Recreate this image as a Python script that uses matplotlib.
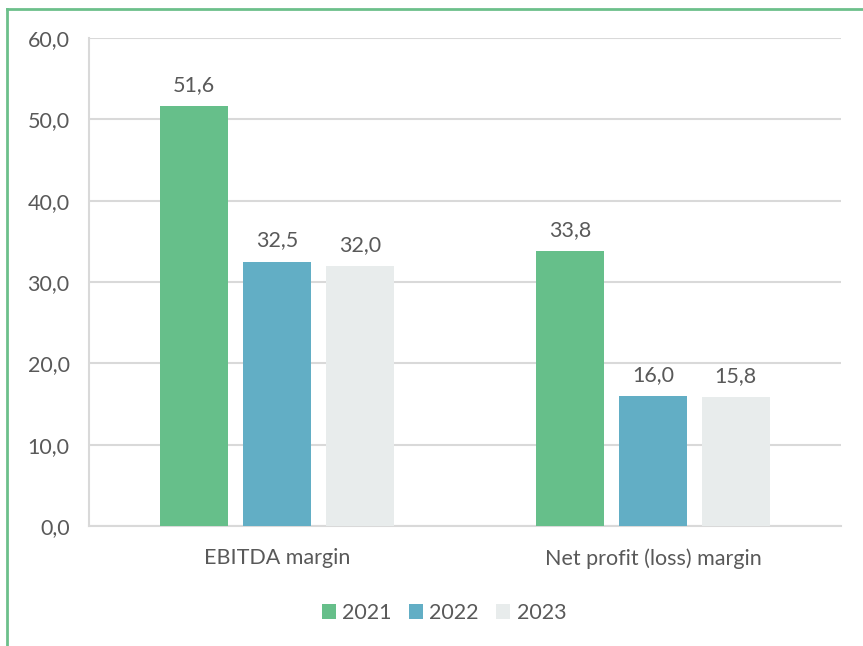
import matplotlib
matplotlib.use("Agg")
import matplotlib.pyplot as plt
from matplotlib.lines import Line2D
import numpy as np

categories = ["EBITDA margin", "Net profit (loss) margin"]
years = ["2021", "2022", "2023"]
values_2021 = [51.6, 33.8]
values_2022 = [32.5, 16.0]
values_2023 = [32.0, 15.8]
y_ticks = [0, 10, 20, 30, 40, 50, 60]

series = [values_2021, values_2022, values_2023]
colors = ["#66bf8a", "#62aec5", "#e8ecec"]
text_color = "#595959"
grid_color = "#d9d9d9"
border_color = "#6cc08b"

plt.rcParams["font.family"] = ["Lato", "DejaVu Sans"]
fs = 15.5

fig = plt.figure(figsize=(8.63, 6.46), dpi=100)
ax = fig.add_axes([89 / 863, 1 - 526 / 646, (841 - 89) / 863, (526 - 38) / 646])

x = np.arange(len(categories))
width = 0.18
offsets = [-0.22, 0.0, 0.22]

def fmt(v):
    return f"{v:.1f}".replace(".", ",")

for vals, off, col, yr in zip(series, offsets, colors, years):
    bars = ax.bar(x + off, vals, width=width, color=col, label=yr, zorder=3)
    for b, v in zip(bars, vals):
        ax.annotate(fmt(v), (b.get_x() + b.get_width() / 2, v),
                    xytext=(0, 8), textcoords="offset points",
                    ha="center", va="bottom", fontsize=fs, color=text_color)

ax.set_xlim(-0.5, 1.5)
ax.set_ylim(0, 60)
ax.set_yticks(y_ticks)
ax.set_yticklabels([fmt(t) for t in y_ticks])
ax.set_xticks(x)
ax.set_xticklabels(categories)
ax.tick_params(axis="both", length=0, colors=text_color, labelsize=fs)
ax.tick_params(axis="y", pad=14)
ax.tick_params(axis="x", pad=16)

ax.yaxis.grid(True, color=grid_color, linewidth=1.5, zorder=0)
ax.set_axisbelow(True)
for side in ["top", "right"]:
    ax.spines[side].set_visible(False)
for side in ["left", "bottom"]:
    ax.spines[side].set_color(grid_color)
    ax.spines[side].set_linewidth(1.5)

leg = ax.legend(loc="upper center", bbox_to_anchor=(0.472, -0.118), ncol=3,
                frameon=False, fontsize=fs, handlelength=0.65, handleheight=0.65,
                handletextpad=0.3, columnspacing=0.8, labelcolor=text_color)

# outer frame lines along the top and left edges
fig.add_artist(Line2D([7 / 863, 1.0], [1 - 9 / 646, 1 - 9 / 646],
                      color=border_color, linewidth=2, transform=fig.transFigure))
fig.add_artist(Line2D([7 / 863, 7 / 863], [0.0, 1 - 9 / 646],
                      color=border_color, linewidth=2, transform=fig.transFigure))

fig.savefig("out.png", dpi=100)
